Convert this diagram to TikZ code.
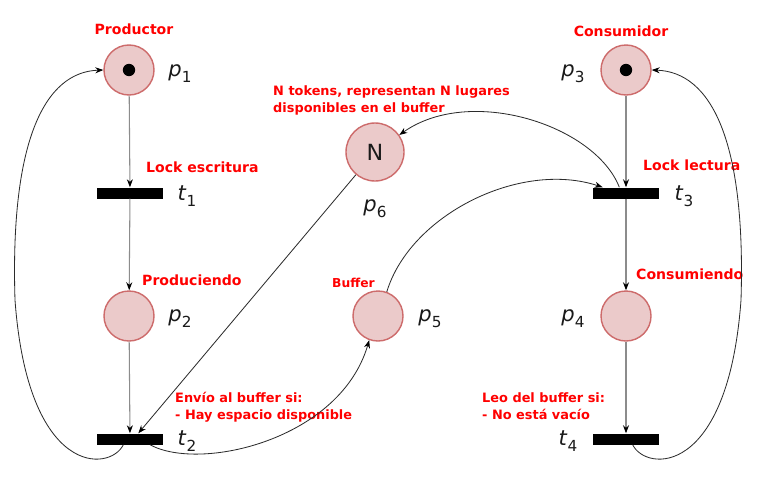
\documentclass[tikz,border=0pt]{standalone}
\usepackage{fontspec}
\setmainfont{DejaVu Sans}
\usepackage{tikz}
\usetikzlibrary{arrows.meta}
\definecolor{PlaceFill}{HTML}{EBCACA}
\definecolor{PlaceDraw}{HTML}{CD6B6B}
\definecolor{NoteRed}{HTML}{FF0000}
\definecolor{ArcColor}{HTML}{2B2B2B}
\definecolor{FlowGray}{HTML}{8C8C8C}
\definecolor{TextColor}{HTML}{1A1A1A}
\newcommand{\pn}[2]{\textit{#1}\raisebox{-0.28em}{\fontsize{13}{13}\selectfont #2}}
\tikzset{
	placenode/.style={circle, fill=PlaceFill, draw=PlaceDraw, line width=1.2pt, minimum size=1.5cm, inner sep=0pt},
	tokendot/.style={circle, fill=black, minimum size=0.37cm, inner sep=0pt},
	transbar/.style={rectangle, fill=black, minimum width=1.98cm, minimum height=0.33cm, inner sep=0pt},
	redtxt/.style={text=NoteRed, font=\bfseries\fontsize{11.5}{14.5}\selectfont, align=left, inner sep=0pt},
	pname/.style={text=TextColor, font=\fontsize{18}{20}\selectfont, inner sep=0pt},
	flow/.style={draw=FlowGray, line width=0.9pt, -{Stealth[length=2.4mm,width=1.8mm,color=black]}},
	arc/.style={draw=ArcColor, line width=0.7pt, -{Stealth[length=2.4mm,width=1.8mm,color=black]}}
}

\begin{document}
\begin{tikzpicture}[x=0.03cm,y=-0.03cm]
	\useasboundingbox[fill=white] (0,0) rectangle (758,493);

	% places and transitions
	\node[placenode] (p1) at (129,70) {};
	\node[tokendot] (d1) at (p1) {};
	\node[transbar] (t1) at (130,193) {};
	\node[placenode] (p2) at (129,316) {};
	\node[transbar] (t2) at (130,439) {};
	\node[placenode, minimum size=1.74cm, font=\fontsize{19}{21}\selectfont, text=TextColor] (p6) at (375,152) {N};
	\node[placenode] (p5) at (378,316) {};
	\node[placenode] (p3) at (626,70) {};
	\node[tokendot] (d3) at (p3) {};
	\node[transbar] (t3) at (626,193) {};
	\node[placenode] (p4) at (626,316) {};
	\node[transbar] (t4) at (626,439) {};

	% names
	\node[pname] (n1) at (180,74) {\pn{p}{1}};
	\node[pname] (m1) at (187,196) {\pn{t}{1}};
	\node[pname] (n2) at (180,319) {\pn{p}{2}};
	\node[pname] (m2) at (187,441) {\pn{t}{2}};
	\node[pname] (n6) at (375,209) {\pn{p}{6}};
	\node[pname] (n5) at (430,319) {\pn{p}{5}};
	\node[pname] (n3) at (573,74) {\pn{p}{3}};
	\node[pname] (m3) at (684,196) {\pn{t}{3}};
	\node[pname] (n4) at (573,319) {\pn{p}{4}};
	\node[pname] (m4) at (568,441) {\pn{t}{4}};

	% red notes
	\node[redtxt, font=\bfseries\fontsize{12}{14.5}\selectfont] (productor) at (134,29) {Productor};
	\node[redtxt, anchor=west, font=\bfseries\fontsize{12}{14.5}\selectfont] (lockw) at (146,167) {Lock escritura};
	\node[redtxt, anchor=west, font=\bfseries\fontsize{12}{14.5}\selectfont] (produc) at (142,280) {Produciendo};
	\node[redtxt, anchor=west, font=\bfseries\fontsize{11}{14.5}\selectfont] (ntok) at (273,100) {N tokens, representan N lugares\\disponibles en el buffer};
	\node[redtxt, font=\bfseries\fontsize{12}{14.5}\selectfont] (consumidor) at (621,31) {Consumidor};
	\node[redtxt, anchor=west, font=\bfseries\fontsize{12}{14.5}\selectfont] (lockr) at (643,165) {Lock lectura};
	\node[redtxt, anchor=west, font=\bfseries\fontsize{12}{14.5}\selectfont] (consum) at (636,274) {Consumiendo};
	\node[redtxt, anchor=west, font=\bfseries\fontsize{10.5}{13}\selectfont] (buf) at (332,283) {Buffer};
	\node[redtxt, anchor=west, font=\bfseries\fontsize{11}{14.5}\selectfont] (envio) at (175,407) {Envío al buffer si:\\- Hay espacio disponible};
	\node[redtxt, anchor=west, font=\bfseries\fontsize{11}{14.5}\selectfont] (leo) at (482,406) {Leo del buffer si:\\- No está vacío};

	% vertical flow
	\draw[flow] (p1) -- (t1);
	\draw[flow] (t1) -- (p2);
	\draw[flow] (p2) -- (t2);
	\draw[flow] (p3) -- (t3);
	\draw[flow] (t3) -- (p4);
	\draw[flow] (p4) -- (t4);

	% loops and buffer arcs
	\draw[arc] ([xshift=-0.2cm]t2.south) .. controls (110,472) and (28,478) .. (15,300) .. controls (10,140) and (45,72) .. (p1.west);
	\draw[arc] ([xshift=0.2cm]t4.south) .. controls (646,472) and (728,478) .. (741,300) .. controls (746,140) and (711,72) .. (p3.east);
	\draw[arc] ([xshift=-0.2cm]t3.north) .. controls (595,125) and (470,85) .. (p6.35);
	\draw[arc] (p5.70) .. controls (410,215) and (520,160) .. ([xshift=-0.7cm]t3.north);
	\draw[arc] (p6) -- ([xshift=0.25cm]t2.north);
	\draw[arc] ([xshift=0.6cm]t2.south) .. controls (200,472) and (340,440) .. (p5.250);
\end{tikzpicture}
\end{document}
